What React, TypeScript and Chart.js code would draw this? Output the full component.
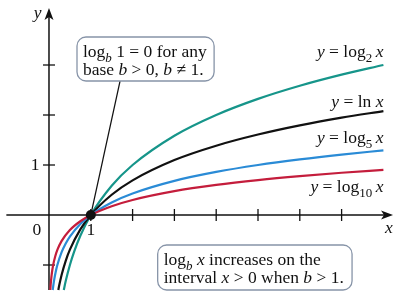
import React, { useEffect, useRef } from 'react';
import { Chart, registerables } from 'chart.js';

Chart.register(...registerables);

// y = log2 x
const log2X = [0.354, 0.4, 0.5, 0.6, 0.75, 1, 1.5, 2, 3, 4, 5, 6, 7, 8];
const log2Y = [-1.5, -1.322, -1, -0.737, -0.415, 0, 0.585, 1, 1.585, 2, 2.322, 2.585, 2.807, 3];
// y = ln x
const lnX = [0.223, 0.25, 0.3, 0.4, 0.5, 0.75, 1, 1.5, 2, 3, 4, 5, 6, 7, 8];
const lnY = [-1.5, -1.386, -1.204, -0.916, -0.693, -0.288, 0, 0.405, 0.693, 1.099, 1.386, 1.609, 1.792, 1.946, 2.079];
// y = log5 x
const log5X = [0.089, 0.1, 0.12, 0.16, 0.2, 0.3, 0.4, 0.5, 0.75, 1, 1.5, 2, 3, 4, 5, 6, 7, 8];
const log5Y = [-1.5, -1.431, -1.317, -1.139, -1, -0.748, -0.569, -0.431, -0.179, 0, 0.252, 0.431, 0.683, 0.861, 1, 1.113, 1.209, 1.292];
// y = log10 x
const log10X = [0.0316, 0.04, 0.05, 0.07, 0.1, 0.15, 0.2, 0.3, 0.5, 0.75, 1, 1.5, 2, 3, 4, 5, 6, 7, 8];
const log10Y = [-1.5, -1.398, -1.301, -1.155, -1, -0.824, -0.699, -0.523, -0.301, -0.125, 0, 0.176, 0.301, 0.477, 0.602, 0.699, 0.778, 0.845, 0.903];

const xTicks = [1, 2, 3, 4, 5, 6, 7];
const yTicks = [-1, 1, 2, 3];
const xTickLabels = ['0', '1'];
const yTickLabels = ['1'];

const COLORS = { log2: '#16958a', ln: '#111111', log5: '#2a8bd6', log10: '#c41d3c' };
const FONT = '"Liberation Serif", "Times New Roman", serif';
const FS = 17.5;

type Seg = { t: string; i?: boolean; sub?: boolean };

function drawSegs(ctx: CanvasRenderingContext2D, segs: Seg[], x: number, y: number, align: 'left' | 'right' | 'center', size = FS) {
  const fontFor = (s: Seg) => `${s.i ? 'italic ' : ''}${s.sub ? Math.round(size * 0.72) : size}px ${FONT}`;
  let w = 0;
  for (const s of segs) {
    ctx.font = fontFor(s);
    w += ctx.measureText(s.t).width;
  }
  let cx = align === 'right' ? x - w : align === 'center' ? x - w / 2 : x;
  ctx.textAlign = 'left';
  ctx.textBaseline = 'alphabetic';
  for (const s of segs) {
    ctx.font = fontFor(s);
    ctx.fillText(s.t, cx, s.sub ? y + size * 0.26 : y);
    cx += ctx.measureText(s.t).width;
  }
}

const toXY = (xs: number[], ys: number[]) => xs.map((x, i) => ({ x, y: ys[i] }));

const curveLabels: { segs: Seg[]; x: number; y: number }[] = [
  { segs: [{ t: 'y', i: true }, { t: ' = log' }, { t: '2', sub: true }, { t: '\u2009' }, { t: 'x', i: true }], x: 8.0, y: 3.16 },
  { segs: [{ t: 'y', i: true }, { t: ' = ln ' }, { t: 'x', i: true }], x: 8.0, y: 2.16 },
  { segs: [{ t: 'y', i: true }, { t: ' = log' }, { t: '5', sub: true }, { t: '\u2009' }, { t: 'x', i: true }], x: 8.0, y: 1.44 },
  { segs: [{ t: 'y', i: true }, { t: ' = log' }, { t: '10', sub: true }, { t: '\u2009' }, { t: 'x', i: true }], x: 8.0, y: 0.46 },
];

const box1Lines: Seg[][] = [
  [{ t: 'log' }, { t: 'b', i: true, sub: true }, { t: ' 1 = 0 for any' }],
  [{ t: 'base ' }, { t: 'b', i: true }, { t: ' > 0, ' }, { t: 'b', i: true }, { t: ' \u2260 1.' }],
];
const box2Lines: Seg[][] = [
  [{ t: 'log' }, { t: 'b', i: true, sub: true }, { t: ' ' }, { t: 'x', i: true }, { t: ' increases on the' }],
  [{ t: 'interval ' }, { t: 'x', i: true }, { t: ' > 0 when ' }, { t: 'b', i: true }, { t: ' > 1.' }],
];

const overlayPlugin = {
  id: 'overlay',
  beforeDatasetsDraw(chart: any) {
    const ctx: CanvasRenderingContext2D = chart.ctx;
    const xs = chart.scales.x;
    const ys = chart.scales.y;
    const px = (v: number) => xs.getPixelForValue(v);
    const py = (v: number) => ys.getPixelForValue(v);
    ctx.save();
    ctx.strokeStyle = '#111';
    ctx.fillStyle = '#111';
    ctx.lineWidth = 1.5;
    // x axis
    const x0 = px(0), y0 = py(0);
    const xEnd = px(8.23);
    ctx.beginPath();
    ctx.moveTo(px(-1.02), y0);
    ctx.lineTo(xEnd - 6, y0);
    ctx.stroke();
    // y axis
    const yTop = py(4.14);
    ctx.beginPath();
    ctx.moveTo(x0, py(-1.5));
    ctx.lineTo(x0, yTop + 6);
    ctx.stroke();
    // arrowheads
    ctx.beginPath();
    ctx.moveTo(xEnd, y0);
    ctx.lineTo(xEnd - 12, y0 - 4.5);
    ctx.lineTo(xEnd - 9, y0);
    ctx.lineTo(xEnd - 12, y0 + 4.5);
    ctx.closePath();
    ctx.fill();
    ctx.beginPath();
    ctx.moveTo(x0, yTop);
    ctx.lineTo(x0 - 4.5, yTop + 12);
    ctx.lineTo(x0, yTop + 9);
    ctx.lineTo(x0 + 4.5, yTop + 12);
    ctx.closePath();
    ctx.fill();
    // ticks
    ctx.lineWidth = 1.3;
    for (const t of xTicks) {
      ctx.beginPath();
      ctx.moveTo(px(t), y0 - 6);
      ctx.lineTo(px(t), y0 + 6);
      ctx.stroke();
    }
    for (const t of yTicks) {
      ctx.beginPath();
      ctx.moveTo(x0 - 6, py(t));
      ctx.lineTo(x0 + 6, py(t));
      ctx.stroke();
    }
    ctx.restore();
  },
  afterDatasetsDraw(chart: any) {
    const ctx: CanvasRenderingContext2D = chart.ctx;
    const xs = chart.scales.x;
    const ys = chart.scales.y;
    const px = (v: number) => xs.getPixelForValue(v);
    const py = (v: number) => ys.getPixelForValue(v);
    ctx.save();
    ctx.fillStyle = '#111';
    // axis letters and tick labels
    drawSegs(ctx, [{ t: 'y', i: true }], px(-0.27), py(3.94), 'center');
    drawSegs(ctx, [{ t: 'x', i: true }], px(8.13), py(-0.36), 'center');
    drawSegs(ctx, [{ t: xTickLabels[0] }], px(-0.29), py(-0.4), 'center');
    drawSegs(ctx, [{ t: xTickLabels[1] }], px(1), py(-0.4), 'center');
    drawSegs(ctx, [{ t: yTickLabels[0] }], px(-0.33), py(0.9), 'center');

    // curve labels
    for (const l of curveLabels) drawSegs(ctx, l.segs, px(l.x), py(l.y), 'right');

    // pointer line
    ctx.strokeStyle = '#111';
    ctx.lineWidth = 1.2;
    ctx.beginPath();
    ctx.moveTo(px(1.70), py(2.68));
    ctx.lineTo(px(1), py(0));
    ctx.stroke();

    // point (1, 0)
    ctx.beginPath();
    ctx.arc(px(1), py(0), 5, 0, Math.PI * 2);
    ctx.fill();

    // callout boxes
    const drawBox = (x1: number, y1: number, x2: number, y2: number, lines: Seg[][]) => {
      const l = px(x1), t = py(y1), r = px(x2), b = py(y2);
      ctx.beginPath();
      (ctx as any).roundRect(l, t, r - l, b - t, 9);
      ctx.fillStyle = '#ffffff';
      ctx.fill();
      ctx.strokeStyle = '#8794a8';
      ctx.lineWidth = 1.3;
      ctx.stroke();
      ctx.fillStyle = '#111';
      lines.forEach((ln, k) => drawSegs(ctx, ln, l + 6, t + 20 + k * 18, 'left'));
    };
    drawBox(0.67, 3.56, 3.95, 2.68, box1Lines);
    drawBox(2.6, -0.6, 7.25, -1.5, box2Lines);
    ctx.restore();
  },
};

export default function App() {
  const ref = useRef<HTMLCanvasElement>(null);
  useEffect(() => {
    const line = (data: { x: number; y: number }[], color: string) => ({
      data,
      borderColor: color,
      borderWidth: 2.2,
      pointRadius: 0,
      fill: false,
      cubicInterpolationMode: 'monotone' as const,
    });
    const chart = new Chart(ref.current!, {
      type: 'line',
      data: {
        datasets: [
          line(toXY(log10X, log10Y), COLORS.log10),
          line(toXY(log5X, log5Y), COLORS.log5),
          line(toXY(lnX, lnY), COLORS.ln),
          line(toXY(log2X, log2Y), COLORS.log2),
        ],
      },
      options: {
        responsive: false,
        animation: false,
        layout: { padding: 0 },
        plugins: { legend: { display: false }, tooltip: { enabled: false } },
        scales: {
          x: { type: 'linear', min: -1.172, max: 8.397, display: false },
          y: { type: 'linear', min: -1.68, max: 4.3, display: false },
        },
      },
      plugins: [overlayPlugin],
    });
    return () => chart.destroy();
  }, []);
  return (
    <div style={{ position: 'absolute', left: 0, top: 0, width: 400, height: 299, background: '#fff' }}>
      <canvas ref={ref} width={400} height={299} style={{ display: 'block' }} />
    </div>
  );
}
